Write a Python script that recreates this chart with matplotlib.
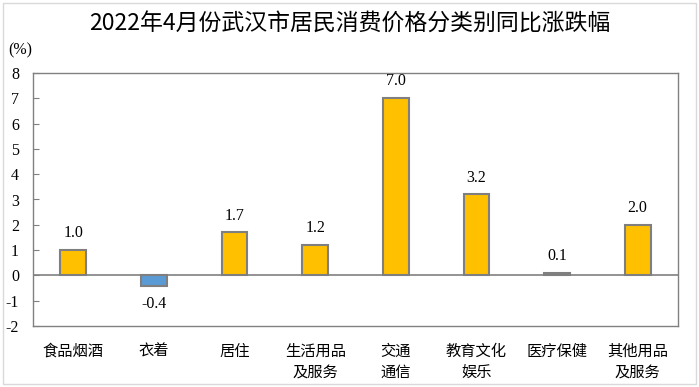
import matplotlib.pyplot as plt
from matplotlib.patches import Rectangle

plt.rcParams['font.family'] = ['Noto Sans CJK SC', 'DejaVu Sans']

# data
categories = ["食品烟酒", "衣着", "居住", "生活用品\n及服务", "交通\n通信",
              "教育文化\n娱乐", "医疗保健", "其他用品\n及服务"]
values = [1.0, -0.4, 1.7, 1.2, 7.0, 3.2, 0.1, 2.0]
yticks = [-2, -1, 0, 1, 2, 3, 4, 5, 6, 7, 8]

fig = plt.figure(figsize=(6.99, 3.87), dpi=100)
ax = fig.add_axes([33 / 699, 1 - 326 / 387, (678 - 33) / 699, (326 - 73) / 387])

x = list(range(len(categories)))
colors = ['#FFC000' if v >= 0 else '#5B9BD5' for v in values]
ax.bar(x, values, width=0.32, color=colors, edgecolor='#7F7F7F', linewidth=1.5, zorder=3)

ax.set_xlim(-0.5, len(categories) - 0.5)
ax.set_ylim(-2, 8)
ax.axhline(0, color='#808080', linewidth=1.2, zorder=2)

# value labels
for xi, v in zip(x, values):
    if v >= 0:
        ax.text(xi, v + 0.35, f"{v:.1f}", ha='center', va='bottom',
                family='Liberation Serif', fontsize=11.5)
    else:
        ax.text(xi, v - 0.4, f"{v:.1f}", ha='center', va='top',
                family='Liberation Serif', fontsize=11.5)

ax.set_yticks(yticks)
ax.set_yticklabels([str(t) for t in yticks], family='Liberation Serif', fontsize=11.5)
ax.tick_params(axis='y', direction='in', length=4, color='#808080', pad=10)
ax.set_xticks(x)
ax.set_xticklabels(categories, fontsize=11, linespacing=1.3, va='top')
ax.tick_params(axis='x', length=0, pad=12)

for s in ax.spines.values():
    s.set_color('#808080')
    s.set_linewidth(1.0)

fig.text(0.5, 1 - 24 / 387, "2022年4月份武汉市居民消费价格分类别同比涨跌幅",
         ha='center', va='center', fontsize=16.5)
fig.text(8 / 699, 1 - 50 / 387, "(%)", ha='left', va='center',
         family='Liberation Serif', fontsize=11.5)

# outer border
fig.patches.append(Rectangle((3 / 699, 3 / 387), 693 / 699, 381 / 387,
                             transform=fig.transFigure, fill=False,
                             edgecolor='#D9D9D9', linewidth=1.0))

fig.savefig('out.png', dpi=100)
